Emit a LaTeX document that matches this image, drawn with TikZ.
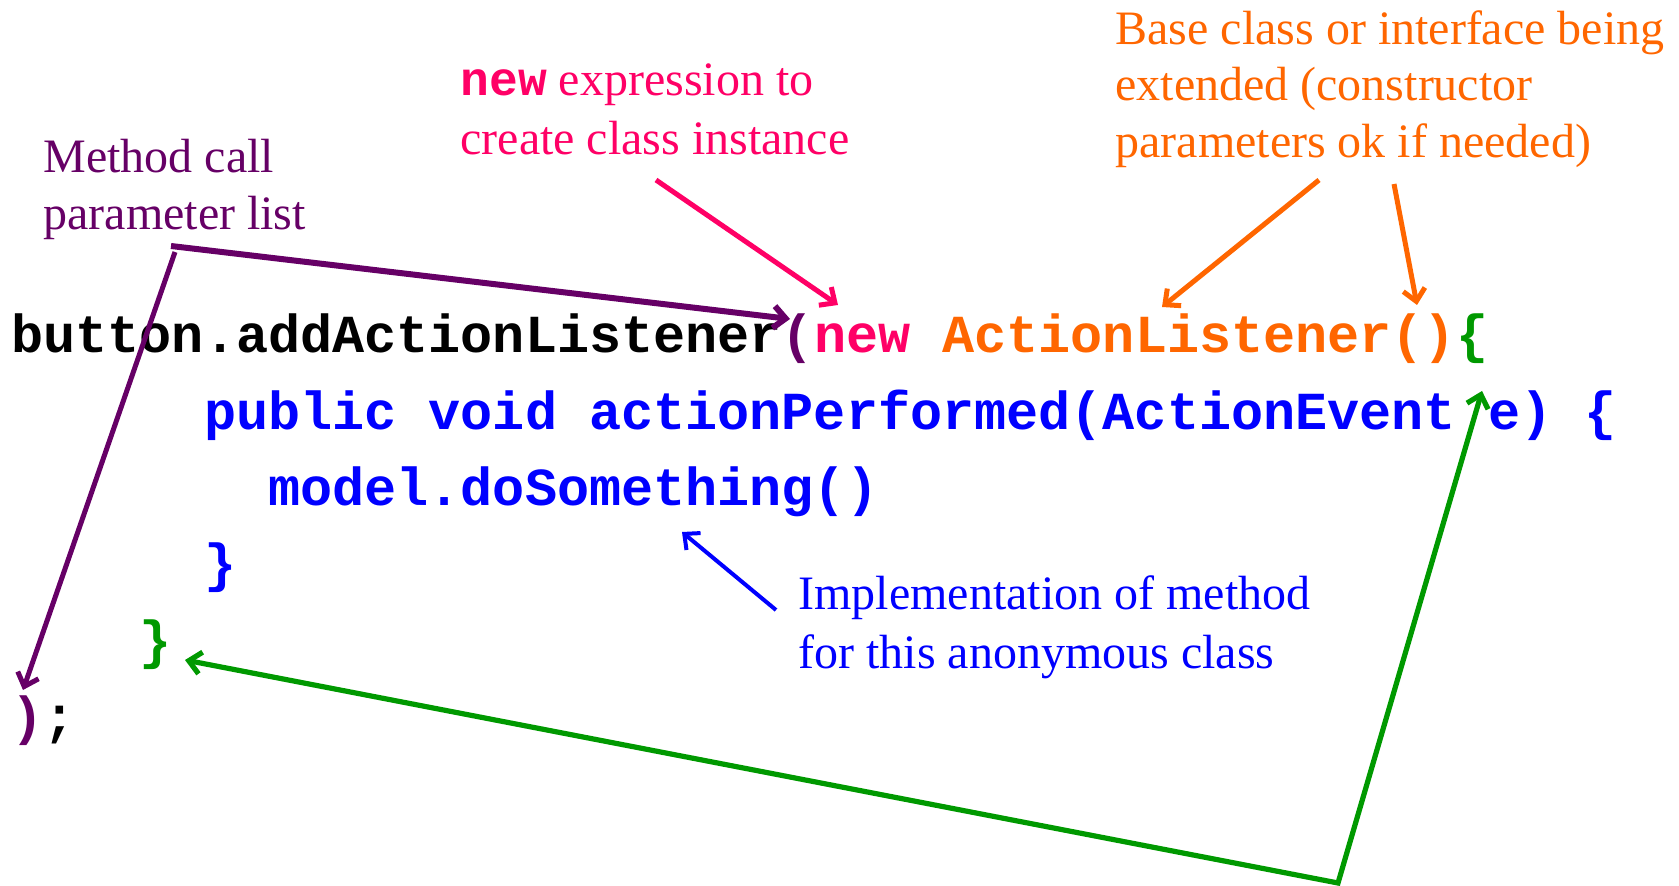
\documentclass[tikz,border=0pt]{standalone}
\usepackage{fontspec}
\setmainfont{Liberation Serif}
\setmonofont{Liberation Mono}
\usetikzlibrary{arrows.meta}
\definecolor{cpurple}{HTML}{660066}
\definecolor{cpink}{HTML}{FF0066}
\definecolor{corange}{HTML}{FF6600}
\definecolor{cgreen}{HTML}{009900}
\definecolor{cblue}{HTML}{0000FF}
\begin{document}
\begin{tikzpicture}[x=0.5pt,y=-0.5pt,
  code/.style={anchor=base west,inner sep=0pt,font=\fontsize{26.75}{26.75}\selectfont\ttfamily\bfseries},
  lbl/.style={anchor=base west,inner sep=0pt,font=\fontsize{24}{28.5}\selectfont},
  arr/.style={line width=2.5pt,-{Straight Barb[length=6pt,width=11pt]}}]
\useasboundingbox (0,0) rectangle (1679,886);
% code
\node[code] (l1) at (11,353) {button.addActionListener\textcolor{cpurple}{(}\textcolor{cpink}{new} \textcolor{corange}{ActionListener()}\textcolor{cgreen}{\{}};
\node[code,text=cblue] (l2) at (203.6,429.3) {public void actionPerformed(ActionEvent e) \{};
\node[code,text=cblue] (l3) at (267.8,505.6) {model.doSomething()};
\node[code,text=cblue] (l4) at (203.6,581.9) {\}};
\node[code,text=cgreen] (l5) at (139.4,658.2) {\}};
\node[code] (l6) at (11,734.5) {\textcolor{cpurple}{)};};
% labels
\node[lbl,text=cpurple] (pa) at (43,173) {Method call};
\node[lbl,text=cpurple] (pb) at (43,230) {parameter list};
\node[lbl,text=cpink] (na) at (460,96) {{\ttfamily\bfseries new} expression to};
\node[lbl,text=cpink] (nb) at (460,155) {create class instance};
\node[lbl,text=corange] (oa) at (1115,45) {Base class or interface being};
\node[lbl,text=corange] (ob) at (1115,101) {extended (constructor};
\node[lbl,text=corange] (oc) at (1115,158) {parameters ok if needed)};
\node[lbl,text=cblue] (ba) at (798,610) {Implementation of method};
\node[lbl,text=cblue] (bb) at (798,668) {for this anonymous class};
% connector points
\coordinate (ps1) at (171,246);
\coordinate (pt1) at (790,319);
\coordinate (ps2) at (175,252);
\coordinate (pt2) at (23,690);
\coordinate (ns) at (656,180);
\coordinate (nt) at (838,305);
\coordinate (os1) at (1319,180);
\coordinate (ot1) at (1162,307);
\coordinate (os2) at (1394,184);
\coordinate (ot2) at (1417,305);
\coordinate (bs) at (776,610);
\coordinate (bt) at (682,532);
\coordinate (gt1) at (185,660);
\coordinate (gc) at (1338,883);
\coordinate (gt2) at (1482,391);
% connectors
\draw[arr,cpurple,line width=3pt] (ps1) -- (pt1);
\draw[arr,cpurple] (ps2) -- (pt2);
\draw[arr,cpink] (ns) -- (nt);
\draw[arr,corange] (os1) -- (ot1);
\draw[arr,corange] (os2) -- (ot2);
\draw[arr,cblue,line width=2pt] (bs) -- (bt);
\draw[cgreen,line width=2.6pt,{Straight Barb[length=6pt,width=11pt]}-{Straight Barb[length=6pt,width=11pt]}] (gt1) -- (gc) -- (gt2);
\end{tikzpicture}
\end{document}
